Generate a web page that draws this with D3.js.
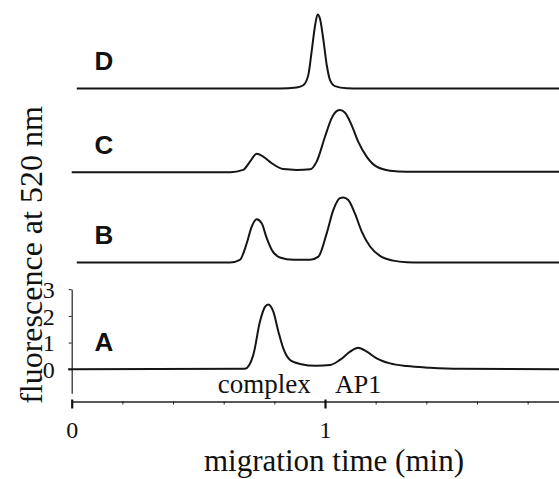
<!DOCTYPE html>
<html>
<head>
<meta charset="utf-8">
<script src="https://cdn.jsdelivr.net/npm/d3@7"></script>
<style>
  html, body { margin: 0; padding: 0; background: #fff; }
  svg { display: block; }
</style>
</head>
<body>
<svg id="chart" width="559" height="479"></svg>
<script>
// ---- data (migration time in min, fluorescence in arbitrary units) ----
const traceNames = ["A", "B", "C", "D"];
const traceOffsets = [0, 4.0, 7.38, 10.52];

const timeA = [-0.014, 0.684, 0.717, 0.743, 0.763, 0.776, 0.796, 0.816, 0.835, 0.862, 0.901, 0.967, 1.020, 1.059, 1.099, 1.131, 1.165, 1.204, 1.257, 1.323, 1.415, 1.53, 1.93];
const valA  = [0, 0.02, 0.54, 1.78, 2.34, 2.43, 2.16, 1.41, 0.79, 0.35, 0.20, 0.13, 0.16, 0.35, 0.66, 0.81, 0.66, 0.41, 0.22, 0.12, 0.06, 0.02, 0];

const timeB = [0.02, 0.625, 0.664, 0.691, 0.711, 0.730, 0.750, 0.770, 0.790, 0.822, 0.875, 0.941, 0.974, 1.007, 1.033, 1.059, 1.072, 1.092, 1.118, 1.145, 1.178, 1.217, 1.270, 1.323, 1.375, 1.93];
const valB  = [0, 0, 0.10, 0.72, 1.35, 1.62, 1.47, 0.91, 0.47, 0.19, 0.10, 0.10, 0.22, 1.10, 1.97, 2.41, 2.44, 2.34, 1.84, 1.16, 0.60, 0.25, 0.07, 0.01, 0, 0];

const timeC = [0.0, 0.625, 0.677, 0.704, 0.730, 0.756, 0.790, 0.835, 0.888, 0.941, 0.967, 1.000, 1.026, 1.046, 1.059, 1.079, 1.105, 1.131, 1.165, 1.204, 1.257, 1.323, 1.375, 1.93];
const valC  = [0, 0, 0.09, 0.40, 0.69, 0.59, 0.34, 0.12, 0.09, 0.11, 0.40, 1.33, 2.02, 2.29, 2.33, 2.23, 1.77, 1.15, 0.58, 0.21, 0.06, 0.02, 0.02, 0.02];

const timeD = [0.02, 0.822, 0.888, 0.914, 0.934, 0.947, 0.961, 0.971, 0.980, 0.993, 1.007, 1.020, 1.039, 1.086, 1.138, 1.93];
const valD  = [0, 0, 0.04, 0.12, 0.50, 1.37, 2.37, 2.77, 2.62, 1.87, 0.87, 0.31, 0.09, 0.01, 0, 0];

const yTicks = [0, 1, 2, 3];
const xMinorTicks = [0.2, 0.4, 0.6, 0.8, 1.2, 1.4, 1.6, 1.8];
const xMajorTicks = [0, 1];
const peakLabels = ["complex", "AP1"];
const peakTimes = [0.776, 1.131];
const xTitle = "migration time (min)";
const yTitle = "fluorescence at 520 nm";

// ---- drawing ----
const SERIF = '"Liberation Serif", "Times New Roman", serif';
const SANS = '"Liberation Sans", Arial, sans-serif';
const INK = "#111";

const svg = d3.select("#chart");
const x = d3.scaleLinear().domain([0, 2]).range([71.7, 578.3]);
const y = d3.scaleLinear().domain([-0.9, 3]).range([393.3, 289.2]);

const traces = [
  {name: traceNames[0], t: timeA, v: valA, off: traceOffsets[0]},
  {name: traceNames[1], t: timeB, v: valB, off: traceOffsets[1]},
  {name: traceNames[2], t: timeC, v: valC, off: traceOffsets[2]},
  {name: traceNames[3], t: timeD, v: valD, off: traceOffsets[3]}
];

const line = d3.line()
  .x(d => x(d[0]))
  .y(d => y(d[1]))
  .curve(d3.curveMonotoneX);

// y axis (for trace A)
const yAxis = d3.axisLeft(y).tickValues(yTicks).tickSize(3).tickSizeOuter(0).tickPadding(14).tickFormat(d3.format("d"));
const gy = svg.append("g").attr("transform", `translate(${x(0)},0)`).call(yAxis);
gy.attr("font-family", SERIF).attr("font-size", 24);
gy.select(".domain").attr("stroke", "#222").attr("stroke-width", 1.2);
gy.selectAll(".tick line").attr("stroke", "#222").attr("stroke-width", 1);
gy.selectAll(".tick text").attr("fill", INK).attr("dy", "0.34em");

// x axis
const axisY = 401.5;
const gxMinor = svg.append("g").attr("transform", `translate(0,${axisY})`)
  .call(d3.axisBottom(x).tickValues(xMinorTicks).tickSize(3).tickSizeOuter(0).tickFormat(""));
gxMinor.select(".domain").attr("stroke", "#222").attr("stroke-width", 1.6);
gxMinor.selectAll(".tick line").attr("stroke", "#222").attr("stroke-width", 1);

const gxMajor = svg.append("g").attr("transform", `translate(0,${axisY})`)
  .call(d3.axisBottom(x).tickValues(xMajorTicks).tickSize(7).tickSizeOuter(0).tickPadding(12).tickFormat(d3.format("d")));
gxMajor.attr("font-family", SERIF).attr("font-size", 24);
gxMajor.select(".domain").remove();
gxMajor.selectAll(".tick line").attr("stroke", INK).attr("stroke-width", 2.2).attr("y1", -2);
gxMajor.selectAll(".tick text").attr("fill", INK);

// traces
traces.forEach(tr => {
  const pts = tr.t.map((t, i) => [t, tr.v[i] + tr.off]);
  svg.append("path")
    .attr("d", line(pts))
    .attr("fill", "none")
    .attr("stroke", "#151515")
    .attr("stroke-width", 2)
    .attr("stroke-linejoin", "round");
  svg.append("text")
    .attr("x", x(0.09))
    .attr("y", y(tr.off + 0.68))
    .attr("font-family", SANS)
    .attr("font-weight", "bold")
    .attr("font-size", 26)
    .attr("fill", INK)
    .text(tr.name);
});

// peak labels under trace A
peakLabels.forEach((lbl, i) => {
  svg.append("text")
    .attr("x", x(peakTimes[i]) - (i === 0 ? 4 : 0))
    .attr("y", 393.3)
    .attr("text-anchor", "middle")
    .attr("font-family", SERIF)
    .attr("font-size", i === 0 ? 27 : 26)
    .attr("fill", INK)
    .text(lbl);
});

// axis titles
svg.append("text")
  .attr("x", 334)
  .attr("y", 471)
  .attr("text-anchor", "middle")
  .attr("font-family", SERIF)
  .attr("font-size", 31)
  .attr("fill", INK)
  .text(xTitle);

svg.append("text")
  .attr("transform", `translate(41.5,255) rotate(-90)`)
  .attr("text-anchor", "middle")
  .attr("font-family", SERIF)
  .attr("font-size", 32)
  .attr("fill", INK)
  .text(yTitle);
</script>
</body>
</html>
